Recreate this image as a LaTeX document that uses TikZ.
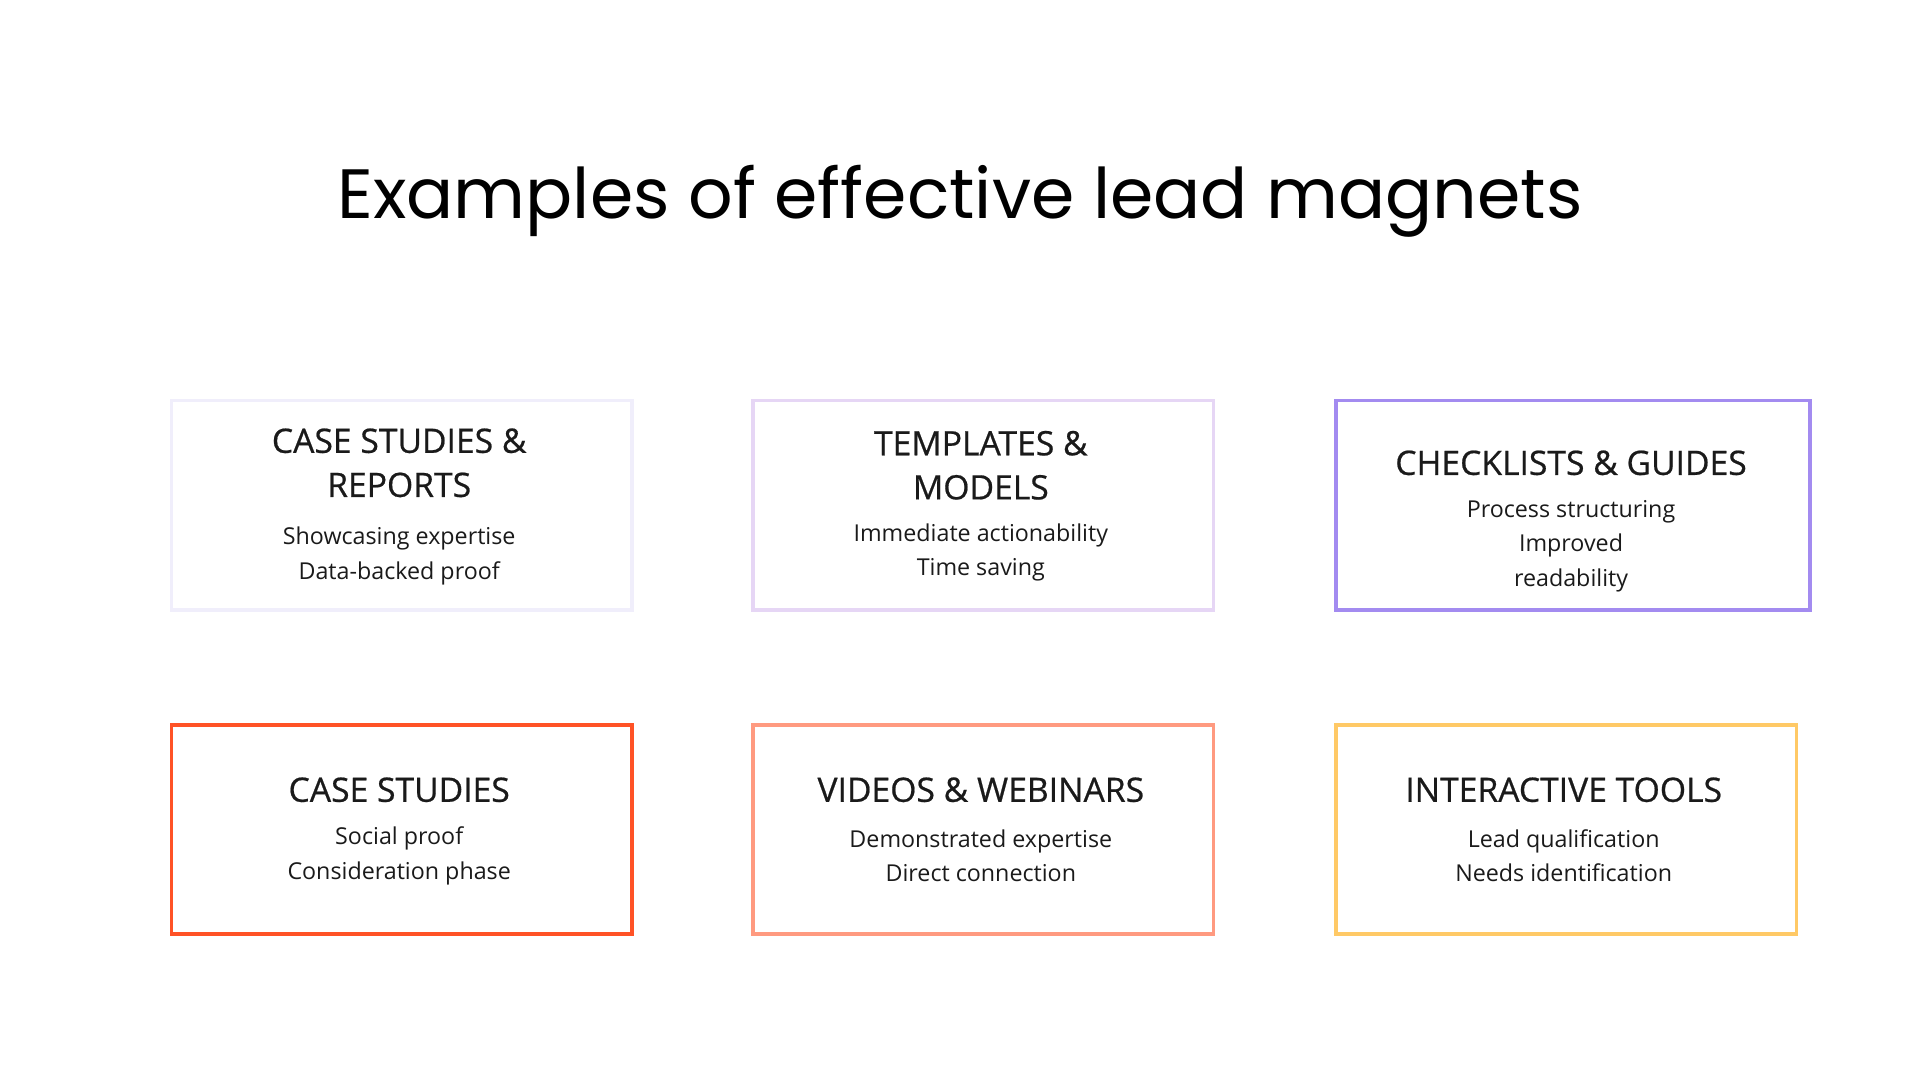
\documentclass[tikz,border=0pt]{standalone}
\usepackage{fontspec}
\setmainfont{Open Sans}
\newfontfamily\headfont[FakeBold=0.6]{Open Sans}
\newfontfamily\titlefont{Poppins}
\definecolor{cA}{HTML}{F0EEFB}
\definecolor{cB}{HTML}{E6D6F5}
\definecolor{cC}{HTML}{A38BF0}
\definecolor{cD}{HTML}{FF5226}
\definecolor{cE}{HTML}{FF9A80}
\definecolor{cF}{HTML}{FFC966}
\definecolor{ink}{HTML}{1A1A1A}
\tikzset{
 card/.style={draw=#1, line width=3pt, minimum height=171pt, anchor=north west, inner sep=0pt},
 head/.style={font=\headfont\fontsize{27.5}{36}\selectfont, text=ink, align=center},
 body/.style={font=\fontsize{19}{28}\selectfont, text=ink, align=center},
}
\begin{document}
\begin{tikzpicture}[x=1pt,y=-1pt]
\useasboundingbox (0,0) rectangle (1568,882);
\node[font=\titlefont\fontsize{57}{66}\selectfont, text=black] (title) at (784,164) {Examples of effective lead magnets};
\node[card=cA, minimum width=376pt] (b1) at (138.5,325.5) {};
\node[card=cB, minimum width=376pt] (b2) at (613.5,325.5) {};
\node[card=cC, minimum width=387pt] (b3) at (1089.5,325.5) {};
\node[card=cD, minimum width=376pt] (b4) at (138.5,590.5) {};
\node[card=cE, minimum width=376pt] (b5) at (613.5,590.5) {};
\node[card=cF, minimum width=376pt] (b6) at (1089.5,590.5) {};
\node[head] (h1) at (326,378) {CASE STUDIES \&\\REPORTS};
\node[body] (t1) at (326,454) {Showcasing expertise\\Data-backed proof};
\node[head] (h2) at (801,380) {TEMPLATES \&\\MODELS};
\node[body] (t2) at (801,451) {Immediate actionability\\Time saving};
\node[head] (h3) at (1283,378) {CHECKLISTS \& GUIDES};
\node[body] (t3) at (1283,446) {Process structuring\\Improved\\readability};
\node[head] (h4) at (326,645) {CASE STUDIES};
\node[body] (t4) at (326,699) {Social proof\\Consideration phase};
\node[head] (h5) at (801,645) {VIDEOS \& WEBINARS};
\node[body] (t5) at (801,699) {Demonstrated expertise\\Direct connection};
\node[head] (h6) at (1277,645) {INTERACTIVE TOOLS};
\node[body] (t6) at (1277,699) {Lead qualification\\Needs identification};
\end{tikzpicture}
\end{document}
